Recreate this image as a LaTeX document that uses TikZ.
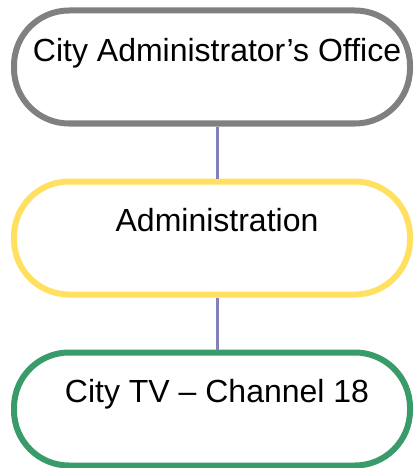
\documentclass[tikz,border=0pt]{standalone}
\usepackage{fontspec}
\setmainfont{Liberation Sans}
\usetikzlibrary{calc}
\usetikzlibrary{positioning}
\definecolor{officegray}{RGB}{128,128,128}
\definecolor{adminyellow}{RGB}{255,224,96}
\definecolor{tvgreen}{RGB}{58,155,106}
\definecolor{linkpurple}{RGB}{130,130,185}
\tikzstyle{unitbox}=[draw,line width=6pt,rounded corners=55pt,fill=white,minimum width=396pt,minimum height=113pt,inner sep=0pt,outer sep=3pt]
\tikzstyle{unitname}=[anchor=base,inner sep=0pt,font=\fontsize{32}{38}\selectfont]
\tikzstyle{link}=[draw=linkpurple,line width=2.5pt]

\begin{document}
\begin{tikzpicture}[x=1pt,y=-1pt]
  \useasboundingbox (0,0) rectangle (413,468);
  % boxes
  \node[unitbox,draw=officegray] (office) at (212,67) {};
  \node[unitbox,draw=adminyellow] (admin) at (212,238) {};
  \node[unitbox,draw=tvgreen] (citytv) at (212,409) {};
  % names
  \node[unitname] (officename) at ($(office.center)+(5,-5)$) {City Administrator’s Office};
  \node[unitname] (adminname) at ($(admin.center)+(5,-7)$) {Administration};
  \node[unitname] (citytvname) at ($(citytv.center)+(5,-7)$) {City TV – Channel 18};
  % links
  \draw[link] ([xshift=5.5pt]office.south) -- ([xshift=5.5pt]admin.north);
  \draw[link] ([xshift=5.5pt]admin.south) -- ([xshift=5.5pt]citytv.north);
\end{tikzpicture}
\end{document}
